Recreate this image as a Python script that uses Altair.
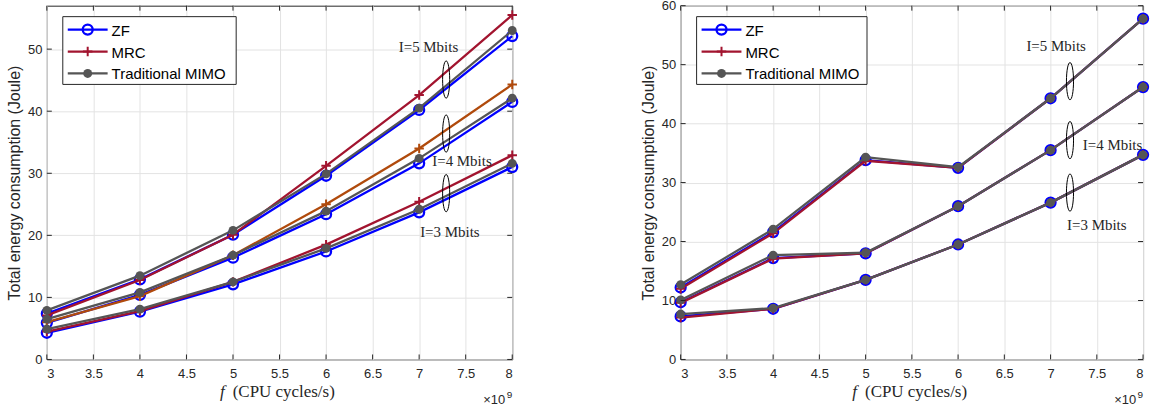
import altair as alt
import pandas as pd

# ---------------- data ----------------
F = [3, 4, 5, 6, 7, 8]          # CPU frequency, x 10^9 cycles/s
XTICKS = [3, 3.5, 4, 4.5, 5, 5.5, 6, 6.5, 7, 7.5, 8]

# left panel
L_ZF_5 = [7.4, 12.9, 20.1, 29.6, 40.2, 52.1]
L_MRC_5 = [7.1, 12.8, 20.1, 31.2, 42.6, 55.5]
L_MIMO_5 = [7.9, 13.5, 20.8, 29.9, 40.5, 53.0]
L_ZF_4 = [5.9, 10.4, 16.4, 23.4, 31.6, 41.5]
L_MRC_4 = [6.0, 10.2, 16.8, 25.0, 34.0, 44.3]
L_MIMO_4 = [6.5, 10.8, 16.8, 23.9, 32.4, 42.1]
L_ZF_3 = [4.3, 7.7, 12.1, 17.4, 23.7, 31.0]
L_MRC_3 = [4.5, 7.8, 12.5, 18.5, 25.4, 32.9]
L_MIMO_3 = [4.9, 8.1, 12.5, 17.9, 24.2, 31.6]
L_YTICKS = [0, 10, 20, 30, 40, 50]
L_YMAX = 57

# right panel
R_ZF_5 = [12.2, 21.6, 33.8, 32.5, 44.3, 57.8]
R_MRC_5 = [12.0, 21.4, 33.7, 32.5, 44.3, 57.8]
R_MIMO_5 = [12.7, 22.1, 34.3, 32.6, 44.3, 57.8]
R_ZF_4 = [9.7, 17.2, 18.0, 26.0, 35.5, 46.2]
R_MRC_4 = [9.6, 17.1, 18.0, 26.0, 35.5, 46.2]
R_MIMO_4 = [10.1, 17.7, 18.1, 26.0, 35.5, 46.2]
R_ZF_3 = [7.3, 8.6, 13.5, 19.5, 26.6, 34.7]
R_MRC_3 = [7.1, 8.6, 13.5, 19.5, 26.6, 34.7]
R_MIMO_3 = [7.7, 8.7, 13.5, 19.5, 26.6, 34.7]
R_YTICKS = [0, 10, 20, 30, 40, 50, 60]
R_YMAX = 60

# annotations (ellipse centres and labels, data coordinates)
L_ELL_F = [7.29, 7.29, 7.29]
L_ELL_E = [45.1, 36.4, 26.8]
L_LAB_F = [7.10, 7.46, 7.33]
L_LAB_E = [50.4, 32.0, 20.5]
R_ELL_F = [7.21, 7.21, 7.21]
R_ELL_E = [47.2, 37.2, 28.3]
R_LAB_F = [7.06, 7.67, 7.50]
R_LAB_E = [53.2, 36.4, 22.8]
LABELS = ["I=5 Mbits", "I=4 Mbits", "I=3 Mbits"]

LEGEND = ["ZF", "MRC", "Traditional MIMO"]

BLUE = "#0000FF"
RED = "#A2142F"
ORANGE = "#B04A0C"
GRAY = "#555555"
AX = "#262626"
SANS = "Liberation Sans"
SERIF = "Liberation Serif"

PLUS = "M-1,0L1,0M0,-1L0,1"
ELLIPSE = "M0,-1A0.19,1,0,1,1,0,1A0.19,1,0,1,1,0,-1Z"


def series_df(vals):
    return pd.DataFrame({"f": F, "E": vals})


def panel(zf, mrc, mimo, ymax, yticks, width, height, mrc_colors,
          ell_f, ell_e, lab_f, lab_e, leg_w):
    xenc = alt.X("f:Q", scale=alt.Scale(domain=[3, 8], nice=False),
                 axis=alt.Axis(values=XTICKS, title=None, format="~g",
                               labelPadding=8, grid=True))
    yenc = alt.Y("E:Q", scale=alt.Scale(domain=[0, ymax], nice=False),
                 axis=alt.Axis(values=yticks, title="Total energy consumption (Joule)",
                               labelPadding=5, titlePadding=5, grid=True))

    layers = []
    # series: ZF, then MRC, then traditional MIMO (drawn on top)
    for vals in zf:
        d = series_df(vals)
        layers.append(alt.Chart(d).mark_line(color=BLUE, strokeWidth=2.3)
                      .encode(x=xenc, y=yenc))
        layers.append(alt.Chart(d).mark_point(shape="circle", filled=False, color=BLUE,
                                              size=100, strokeWidth=2.3, opacity=1)
                      .encode(x=xenc, y=yenc))
    for vals, col in zip(mrc, mrc_colors):
        d = series_df(vals)
        layers.append(alt.Chart(d).mark_line(color=col, strokeWidth=2.3)
                      .encode(x=xenc, y=yenc))
        layers.append(alt.Chart(d).mark_point(shape=PLUS, filled=False, color=col,
                                              size=90, strokeWidth=2, opacity=1)
                      .encode(x=xenc, y=yenc))
    for vals in mimo:
        d = series_df(vals)
        layers.append(alt.Chart(d).mark_line(color=GRAY, strokeWidth=2.3)
                      .encode(x=xenc, y=yenc))
        layers.append(alt.Chart(d).mark_point(shape="circle", filled=True, color=GRAY,
                                              size=80, opacity=1)
                      .encode(x=xenc, y=yenc))

    # inward ticks on all four sides
    xt = pd.DataFrame({"f": XTICKS})
    yt = pd.DataFrame({"E": yticks})
    layers.append(alt.Chart(xt).mark_rule(color=AX, strokeWidth=1)
                  .encode(x=xenc, y=alt.value(height), y2=alt.value(height - 5)))
    layers.append(alt.Chart(xt).mark_rule(color=AX, strokeWidth=1)
                  .encode(x=xenc, y=alt.value(0), y2=alt.value(5)))
    layers.append(alt.Chart(yt).mark_rule(color=AX, strokeWidth=1)
                  .encode(y=yenc, x=alt.value(0), x2=alt.value(5)))
    layers.append(alt.Chart(yt).mark_rule(color=AX, strokeWidth=1)
                  .encode(y=yenc, x=alt.value(width - 5), x2=alt.value(width)))

    # annotations
    ell = pd.DataFrame({"f": ell_f, "E": ell_e})
    layers.append(alt.Chart(ell).mark_point(shape=ELLIPSE, size=1400, filled=False,
                                             color="black", strokeWidth=1, opacity=1)
                  .encode(x=xenc, y=yenc))
    lab = pd.DataFrame({"f": lab_f, "E": lab_e, "t": LABELS})
    layers.append(alt.Chart(lab).mark_text(font=SERIF, fontSize=15, color=AX)
                  .encode(x=xenc, y=yenc, text="t:N"))

    # legend
    box = pd.DataFrame({"t": ["box"]})
    layers.append(alt.Chart(box).mark_rect(fill="white", stroke=AX, strokeWidth=1)
                  .encode(x=alt.value(16), x2=alt.value(16 + leg_w),
                          y=alt.value(11), y2=alt.value(79)))
    styles = [
        (BLUE, dict(shape="circle", filled=False, size=100, strokeWidth=2.3)),
        (RED, dict(shape=PLUS, filled=False, size=90, strokeWidth=2)),
        (GRAY, dict(shape="circle", filled=True, size=80)),
    ]
    for k, (name, (col, mk)) in enumerate(zip(LEGEND, styles)):
        yy = 24 + 22 * k
        ldf = pd.DataFrame({"t": [name]})
        layers.append(alt.Chart(ldf).mark_rule(color=col, strokeWidth=2.3)
                      .encode(x=alt.value(21), x2=alt.value(61), y=alt.value(yy)))
        layers.append(alt.Chart(ldf).mark_point(color=col, opacity=1, **mk)
                      .encode(x=alt.value(41), y=alt.value(yy)))
        layers.append(alt.Chart(ldf).mark_text(font=SANS, fontSize=15, color="black",
                                               align="left", baseline="middle")
                      .encode(x=alt.value(65), y=alt.value(yy + 1), text="t:N"))

    # x title: italic f + (CPU cycles/s), and x10^9 exponent
    tdf = pd.DataFrame({"a": ["f"], "b": ["(CPU cycles/s)"], "c": ["\u00d710"], "d": ["9"]})
    cx = width / 2
    layers.append(alt.Chart(tdf).mark_text(font=SERIF, fontSize=17, fontStyle="italic",
                                           color=AX, align="right")
                  .encode(x=alt.value(cx - 55), y=alt.value(height + 33), text="a:N"))
    layers.append(alt.Chart(tdf).mark_text(font=SERIF, fontSize=17, color=AX, align="left")
                  .encode(x=alt.value(cx - 47), y=alt.value(height + 33), text="b:N"))
    layers.append(alt.Chart(tdf).mark_text(font=SANS, fontSize=13, color=AX, align="right")
                  .encode(x=alt.value(width - 7), y=alt.value(height + 41), text="c:N"))
    layers.append(alt.Chart(tdf).mark_text(font=SANS, fontSize=10, color=AX, align="right")
                  .encode(x=alt.value(width), y=alt.value(height + 36), text="d:N"))

    return alt.layer(*layers).properties(width=width, height=height)


left = panel([L_ZF_5, L_ZF_4, L_ZF_3], [L_MRC_5, L_MRC_4, L_MRC_3],
             [L_MIMO_5, L_MIMO_4, L_MIMO_3], L_YMAX, L_YTICKS, 467, 355,
             [RED, ORANGE, RED], L_ELL_F, L_ELL_E, L_LAB_F, L_LAB_E, 174)
right = panel([R_ZF_5, R_ZF_4, R_ZF_3], [R_MRC_5, R_MRC_4, R_MRC_3],
              [R_MIMO_5, R_MIMO_4, R_MIMO_3], R_YMAX, R_YTICKS, 464, 355,
              [RED, RED, RED], R_ELL_F, R_ELL_E, R_LAB_F, R_LAB_E, 171)

chart = (alt.hconcat(left, right, spacing=169, bounds="flush")
         .properties(padding={"left": 6, "top": -2, "right": 5, "bottom": 0},
                     background="white")
         .configure_view(stroke=AX, strokeWidth=1)
         .configure_axis(labelFont=SANS, labelFontSize=13, labelColor=AX,
                         titleFont=SANS, titleFontSize=16, titleColor=AX,
                         titleFontWeight="normal", gridColor="#e3e3e3", gridWidth=1,
                         domain=False, ticks=False))

chart.save("out.html", embed_options={"renderer": "svg", "actions": False})
